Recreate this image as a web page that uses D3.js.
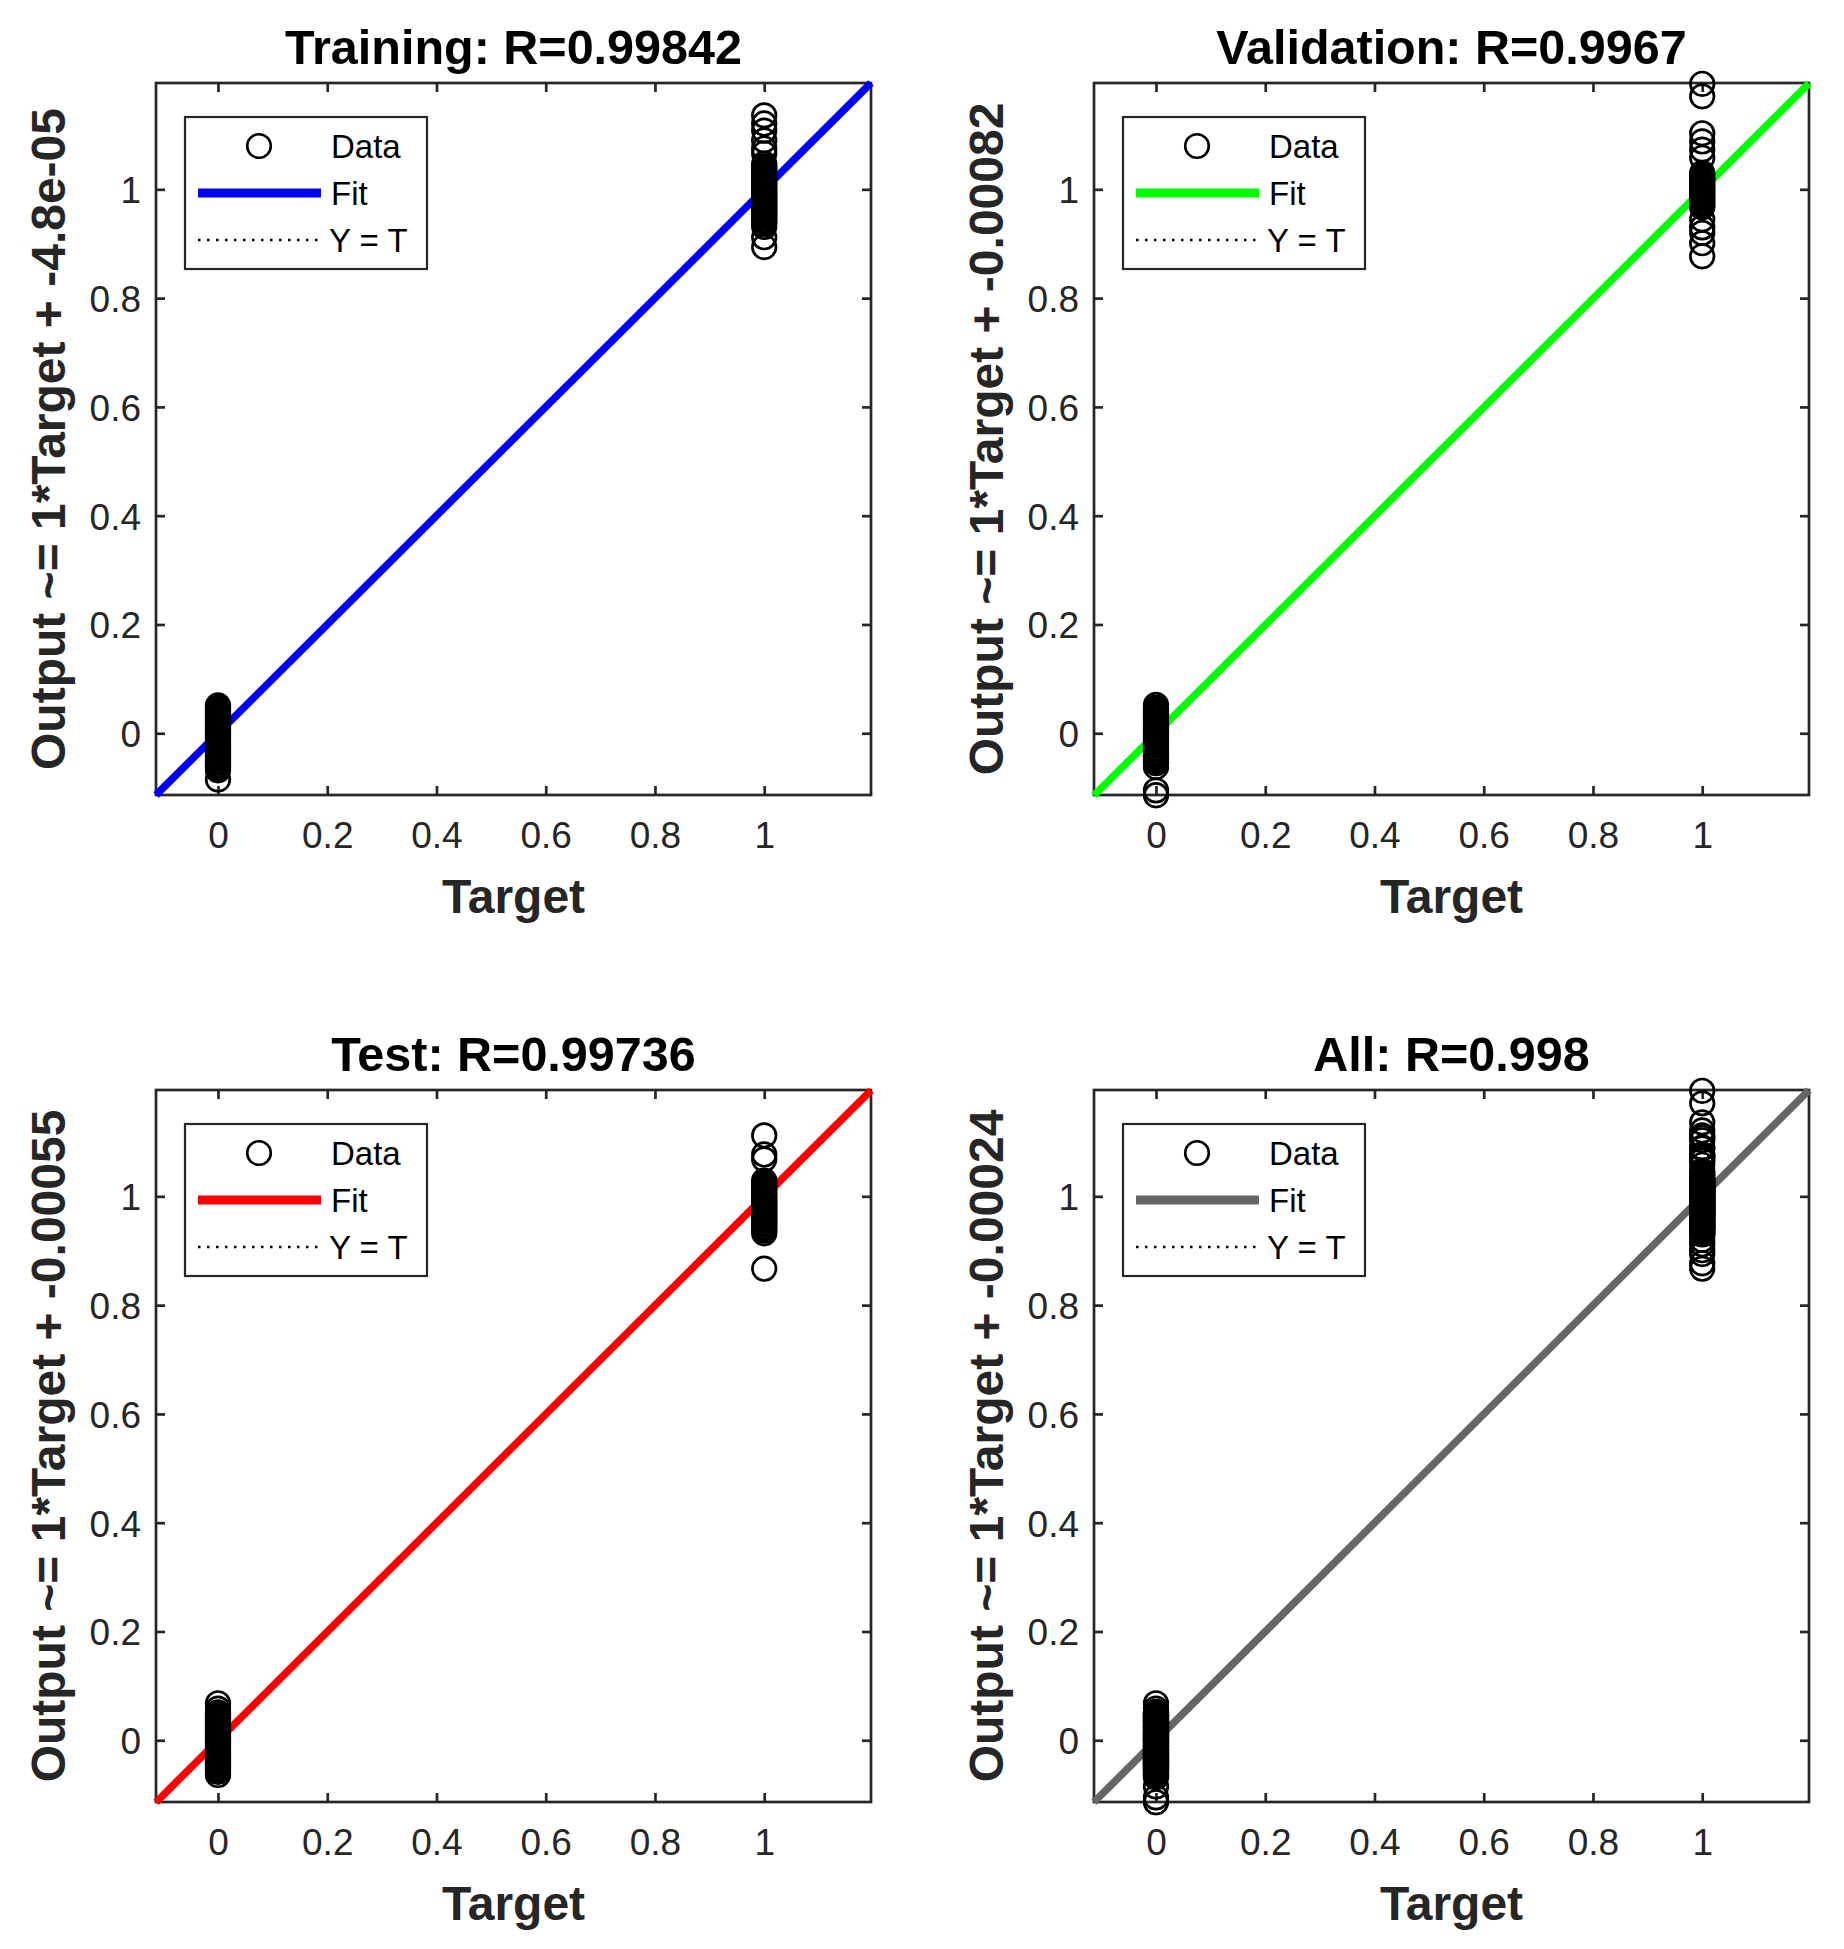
<!DOCTYPE html>
<html>
<head>
<meta charset="utf-8">
<script src="https://cdn.jsdelivr.net/npm/d3@7/dist/d3.min.js"></script>
<style>
  html, body { margin: 0; padding: 0; background: #ffffff; }
  svg { display: block; }
</style>
</head>
<body>
<div id="chart"></div>
<script>
// ---------------- data ----------------
const panelTitles = ["Training: R=0.99842", "Validation: R=0.9967", "Test: R=0.99736", "All: R=0.998"];
const yLabels = [
  "Output ~= 1*Target + -4.8e-05",
  "Output ~= 1*Target + -0.00082",
  "Output ~= 1*Target + -0.00055",
  "Output ~= 1*Target + -0.00024"
];
const fitSlopes = [1, 1, 1, 1];
const fitIntercepts = [-4.8e-05, -0.00082, -0.00055, -0.00024];
const fitColors = ["#0000ff", "#00ff00", "#ff0000", "#666666"];
const legendLabels = ["Data", "Fit", "Y = T"];
const tickValues = [0, 0.2, 0.4, 0.6, 0.8, 1];
const tickLabels = ["0", "0.2", "0.4", "0.6", "0.8", "1"];
const axisLimits = [-0.1135, 1.1955];

// outputs for target = 0 and target = 1
const train0 = [-0.085, -0.068, -0.065, -0.061, -0.058, -0.054, -0.051, -0.047, -0.044, -0.040, -0.037, -0.033, -0.030, -0.026, -0.023, -0.019, -0.016, -0.012, -0.009, -0.005, -0.002, 0.002, 0.005, 0.009, 0.012, 0.016, 0.019, 0.023, 0.026, 0.030, 0.033, 0.037, 0.040, 0.044, 0.047, 0.051];
const train1 = [0.894, 0.912, 0.931, 0.937, 0.941, 0.944, 0.948, 0.951, 0.955, 0.958, 0.962, 0.965, 0.969, 0.972, 0.976, 0.979, 0.983, 0.986, 0.990, 0.993, 0.997, 1.000, 1.004, 1.007, 1.011, 1.014, 1.018, 1.021, 1.025, 1.028, 1.032, 1.035, 1.039, 1.042, 1.047, 1.066, 1.075, 1.090, 1.108, 1.121, 1.136];
const val0 = [-0.114, -0.105, -0.062, -0.055, -0.051, -0.048, -0.044, -0.041, -0.037, -0.034, -0.030, -0.027, -0.023, -0.020, -0.016, -0.013, -0.009, -0.006, -0.002, 0.001, 0.005, 0.008, 0.012, 0.015, 0.019, 0.022, 0.026, 0.029, 0.033, 0.036, 0.040, 0.043, 0.047, 0.052];
const val1 = [0.877, 0.901, 0.920, 0.930, 0.945, 0.967, 0.970, 0.974, 0.977, 0.981, 0.984, 0.988, 0.991, 0.995, 0.998, 1.002, 1.005, 1.009, 1.012, 1.016, 1.019, 1.023, 1.026, 1.030, 1.058, 1.073, 1.088, 1.103, 1.171, 1.194];
const test0 = [-0.064, -0.058, -0.054, -0.051, -0.047, -0.044, -0.040, -0.037, -0.033, -0.030, -0.026, -0.023, -0.019, -0.016, -0.012, -0.009, -0.005, -0.002, 0.002, 0.005, 0.009, 0.012, 0.016, 0.019, 0.023, 0.026, 0.030, 0.033, 0.037, 0.040, 0.044, 0.047, 0.051, 0.058, 0.068];
const test1 = [0.867, 0.932, 0.937, 0.941, 0.944, 0.948, 0.951, 0.955, 0.958, 0.962, 0.965, 0.969, 0.972, 0.976, 0.979, 0.983, 0.986, 0.990, 0.993, 0.997, 1.000, 1.004, 1.007, 1.011, 1.014, 1.018, 1.021, 1.025, 1.029, 1.068, 1.077, 1.112];
const all0 = train0.concat(val0, test0);
const all1 = train1.concat(val1, test1);

const outputs0 = [train0, val0, test0, all0];
const outputs1 = [train1, val1, test1, all1];

// ---------------- layout ----------------
const W = 1844, H = 1949;
const axColor = "#262626";
const font = "'Liberation Sans', Arial, Helvetica, sans-serif";
const box = { left: 156, right: 871, top: 83, bottom: 795 };
const panelDx = 938, panelDy = 1007;

const svg = d3.select("#chart").append("svg")
  .attr("width", W).attr("height", H)
  .attr("viewBox", `0 0 ${W} ${H}`)
  .style("font-family", font);

svg.append("rect").attr("width", W).attr("height", H).attr("fill", "#fff");

panelTitles.forEach((title, i) => {
  const ox = (i % 2) * panelDx;
  const oy = Math.floor(i / 2) * panelDy;
  const g = svg.append("g").attr("transform", `translate(${ox},${oy})`);

  const x = d3.scaleLinear().domain(axisLimits).range([box.left, box.right]);
  const y = d3.scaleLinear().domain(axisLimits).range([box.bottom, box.top]);

  // axes box
  g.append("rect")
    .attr("x", box.left).attr("y", box.top)
    .attr("width", box.right - box.left).attr("height", box.bottom - box.top)
    .attr("fill", "none").attr("stroke", axColor).attr("stroke-width", 2.7);

  // ticks (inward, mirrored)
  const tl = 9;
  const xAxisB = d3.axisBottom(x).tickValues(tickValues).tickSizeInner(-tl).tickSizeOuter(0).tickFormat((d, k) => tickLabels[k]).tickPadding(16);
  const gxb = g.append("g").attr("transform", `translate(0,${box.bottom})`).call(xAxisB);
  const xAxisT = d3.axisTop(x).tickValues(tickValues).tickSizeInner(-tl).tickSizeOuter(0).tickFormat("");
  const gxt = g.append("g").attr("transform", `translate(0,${box.top})`).call(xAxisT);
  const yAxisL = d3.axisLeft(y).tickValues(tickValues).tickSizeInner(-tl).tickSizeOuter(0).tickFormat((d, k) => tickLabels[k]).tickPadding(15);
  const gyl = g.append("g").attr("transform", `translate(${box.left},0)`).call(yAxisL);
  const yAxisR = d3.axisRight(y).tickValues(tickValues).tickSizeInner(-tl).tickSizeOuter(0).tickFormat("");
  const gyr = g.append("g").attr("transform", `translate(${box.right},0)`).call(yAxisR);

  [gxb, gxt, gyl, gyr].forEach(a => {
    a.select(".domain").remove();
    a.selectAll(".tick line").attr("stroke", axColor).attr("stroke-width", 2.7);
    a.selectAll("text")
      .attr("fill", axColor)
      .style("font-family", font)
      .style("font-size", "37px");
  });
  gxb.selectAll(".tick text").attr("dy", null)
    .attr("y", 848 - box.bottom);
  gyl.selectAll(".tick text").attr("dy", "0.36em");

  // Y = T reference line (dotted)
  const line = d3.line().x(d => x(d[0])).y(d => y(d[1]));
  g.append("path")
    .attr("d", line([[axisLimits[0], axisLimits[0]], [axisLimits[1], axisLimits[1]]]))
    .attr("fill", "none").attr("stroke", "#000").attr("stroke-width", 2.5)
    .attr("stroke-dasharray", "2.5,6.5");

  // Fit line
  const fitPts = axisLimits.map(t => [t, fitSlopes[i] * t + fitIntercepts[i]]);
  g.append("path")
    .attr("d", line(fitPts))
    .attr("fill", "none").attr("stroke", fitColors[i]).attr("stroke-width", 7.5);

  // Data circles
  const pts = outputs0[i].map(v => [0, v]).concat(outputs1[i].map(v => [1, v]));
  g.append("g").selectAll("circle").data(pts).join("circle")
    .attr("cx", d => x(d[0])).attr("cy", d => y(d[1]))
    .attr("r", 11.8)
    .attr("fill", "none").attr("stroke", "#000").attr("stroke-width", 2.7);

  // Title
  g.append("text")
    .attr("x", (box.left + box.right) / 2).attr("y", 64)
    .attr("text-anchor", "middle")
    .style("font-size", "48.5px").style("font-weight", "bold")
    .attr("fill", "#000")
    .text(title);

  // X label
  g.append("text")
    .attr("x", (box.left + box.right) / 2).attr("y", 913)
    .attr("text-anchor", "middle")
    .style("font-size", "48px").style("font-weight", "bold")
    .attr("fill", axColor)
    .text("Target");

  // Y label
  g.append("text")
    .attr("transform", `translate(65,${(box.top + box.bottom) / 2}) rotate(-90)`)
    .attr("text-anchor", "middle")
    .style("font-size", "48px").style("font-weight", "bold")
    .attr("fill", axColor)
    .text(yLabels[i]);

  // Legend
  const lg = g.append("g");
  lg.append("rect")
    .attr("x", 185).attr("y", 117).attr("width", 242).attr("height", 152)
    .attr("fill", "#fff").attr("stroke", axColor).attr("stroke-width", 2.2);
  const rowY = [146, 193, 240];
  lg.append("circle").attr("cx", 259).attr("cy", rowY[0]).attr("r", 11.8)
    .attr("fill", "none").attr("stroke", "#000").attr("stroke-width", 2.6);
  lg.append("line").attr("x1", 198).attr("x2", 321).attr("y1", rowY[1]).attr("y2", rowY[1])
    .attr("stroke", fitColors[i]).attr("stroke-width", 9);
  lg.append("line").attr("x1", 198).attr("x2", 320).attr("y1", rowY[2]).attr("y2", rowY[2])
    .attr("stroke", "#000").attr("stroke-width", 2.5).attr("stroke-dasharray", "2.5,6.5");
  legendLabels.forEach((lab, k) => {
    lg.append("text")
      .attr("x", k === 2 ? 329 : 331).attr("y", rowY[k] + 12)
      .style("font-size", "33px")
      .attr("fill", "#000")
      .text(lab);
  });
});
</script>
</body>
</html>
